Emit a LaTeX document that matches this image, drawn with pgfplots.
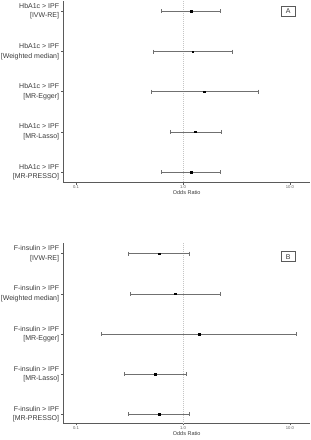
\documentclass[border=0pt]{standalone}
\usepackage{pgfplots}
\pgfplotsset{compat=1.18}
\usepackage{pgfplotstable}
\usepackage{fontspec}
\setmainfont{Liberation Sans}
\definecolor{axgray}{HTML}{5A5A5A}
\definecolor{ebgray}{HTML}{707070}
\definecolor{txtgray}{HTML}{3A3A3A}
\definecolor{tkgray}{HTML}{606060}

\pgfplotstableread{
y  est  lo    hi
5  1.20 0.63  2.23
4  1.23 0.525 2.87
3  1.57 0.50  5.09
2  1.30 0.755 2.26
1  1.20 0.63  2.23
}\dataA
\pgfplotstableread{
y  est   lo    hi
5  0.60  0.31  1.15
4  0.85  0.32  2.22
3  1.41  0.173 11.5
2  0.547 0.28  1.07
1  0.60  0.31  1.15
}\dataB

\begin{document}
\begin{tikzpicture}
\path[use as bounding box] (0,0) rectangle (311pt,440pt);
\tikzset{ci/.style={ebgray, line width=0.6pt, mark=|, mark size=2pt, mark options={solid, ebgray, line width=0.6pt}}}
\tikzset{refline/.style={gray!45, line width=0.6pt, dash pattern=on 1pt off 1pt}}
% Panel A
\begin{semilogxaxis}[scale only axis, width=246.7pt,
  xmin=0.076, xmax=15.4,
  xtick={0.1,1,10}, xticklabels={0.1,1.0,10.0},
  xminorticks=false,
  axis x line*=bottom, axis y line*=left,
  axis line style={-, axgray, line width=0.6pt},
  tick style={axgray, line width=0.5pt},
  tick align=outside, major tick length=2pt,
  xticklabel style={font=\fontsize{4.2}{4.2}\selectfont, text=tkgray, inner sep=1pt},
  yticklabel style={font=\fontsize{7}{9.5}\selectfont, text=txtgray, align=right, inner sep=2pt},
  xlabel={Odds Ratio},
  xlabel style={font=\fontsize{5.5}{6}\selectfont, text=txtgray, inner sep=0pt, at={(axis description cs:0.5,0)}, anchor=center, yshift=-10.3pt},
  ytick={1,2,3,4,5},
  at={(63.3pt,257.3pt)}, anchor=south west,
  height=181.8pt, ymin=0.734, ymax=5.26,
  yticklabels={{HbA1c > IPF\\{[MR-PRESSO]}},{HbA1c > IPF\\{[MR-Lasso]}},{HbA1c > IPF\\{[MR-Egger]}},{HbA1c > IPF\\{[Weighted median]}},{HbA1c > IPF\\{[IVW-RE]}}}]
\addplot[refline] coordinates {(1,0.5) (1,5.5)};
\addplot[ci] coordinates {(0.63,5) (2.23,5)};
\addplot[ci] coordinates {(0.525,4) (2.87,4)};
\addplot[ci] coordinates {(0.50,3) (5.09,3)};
\addplot[ci] coordinates {(0.755,2) (2.26,2)};
\addplot[ci] coordinates {(0.63,1) (2.23,1)};
\addplot[only marks, mark=square*, mark size=0.8pt, black] table[x=est, y=y] {\dataA};
\node[draw=axgray, line width=0.6pt, fill=white, minimum width=14pt, minimum height=10pt, inner sep=0pt, font=\fontsize{7}{7}\selectfont, text=txtgray] at (axis cs:9.64,5) {A};
\end{semilogxaxis}
% Panel B
\begin{semilogxaxis}[scale only axis, width=246.7pt,
  xmin=0.076, xmax=15.4,
  xtick={0.1,1,10}, xticklabels={0.1,1.0,10.0},
  xminorticks=false,
  axis x line*=bottom, axis y line*=left,
  axis line style={-, axgray, line width=0.6pt},
  tick style={axgray, line width=0.5pt},
  tick align=outside, major tick length=2pt,
  xticklabel style={font=\fontsize{4.2}{4.2}\selectfont, text=tkgray, inner sep=1pt},
  yticklabel style={font=\fontsize{7}{9.5}\selectfont, text=txtgray, align=right, inner sep=2pt},
  xlabel={Odds Ratio},
  xlabel style={font=\fontsize{5.5}{6}\selectfont, text=txtgray, inner sep=0pt, at={(axis description cs:0.5,0)}, anchor=center, yshift=-10.3pt},
  ytick={1,2,3,4,5},
  at={(63.3pt,16.7pt)}, anchor=south west,
  height=180pt, ymin=0.776, ymax=5.26,
  yticklabels={{F-insulin > IPF\\{[MR-PRESSO]}},{F-insulin > IPF\\{[MR-Lasso]}},{F-insulin > IPF\\{[MR-Egger]}},{F-insulin > IPF\\{[Weighted median]}},{F-insulin > IPF\\{[IVW-RE]}}}]
\addplot[refline] coordinates {(1,0.5) (1,5.5)};
\addplot[ci] coordinates {(0.31,5) (1.15,5)};
\addplot[ci] coordinates {(0.32,4) (2.22,4)};
\addplot[ci] coordinates {(0.173,3) (11.5,3)};
\addplot[ci] coordinates {(0.28,2) (1.07,2)};
\addplot[ci] coordinates {(0.31,1) (1.15,1)};
\addplot[only marks, mark=square*, mark size=0.8pt, black] table[x=est, y=y] {\dataB};
\node[draw=axgray, line width=0.6pt, fill=white, minimum width=14pt, minimum height=10pt, inner sep=0pt, font=\fontsize{7}{7}\selectfont, text=txtgray] at (axis cs:9.64,4.925) {B};
\end{semilogxaxis}
\end{tikzpicture}
\end{document}
